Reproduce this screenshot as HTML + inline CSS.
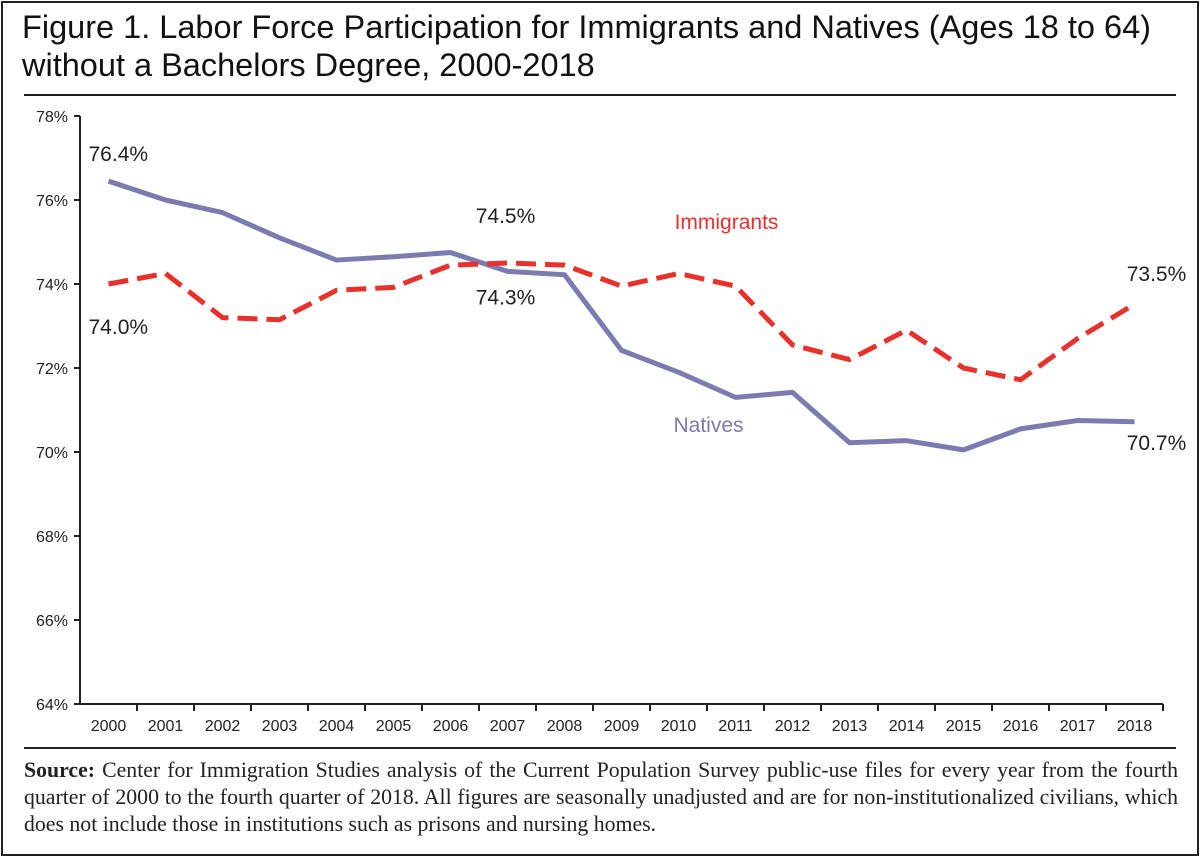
<!DOCTYPE html>
<html><head><meta charset="utf-8"><style>
body{margin:0;background:#fff;}
#wrap{position:relative;width:1200px;height:857px;overflow:hidden;font-family:"Liberation Sans",sans-serif;}
#frame{position:absolute;left:1px;top:1px;width:1194px;height:851px;border:2px solid #222;}
#title{position:absolute;left:22px;top:8px;font-size:32.5px;line-height:38px;color:#111;white-space:nowrap;}
.rule{position:absolute;left:24px;width:1152px;height:2px;background:#222;}
#source{position:absolute;left:24px;top:757px;width:1154px;font-family:"Liberation Serif",serif;font-size:21.8px;line-height:27px;color:#222;text-align:justify;}
</style></head><body>
<div id="wrap">
<div id="frame"></div>
<div id="title">Figure 1. Labor Force Participation for Immigrants and Natives (Ages 18 to 64)<br>without a Bachelors Degree, 2000-2018</div>
<div class="rule" style="top:94px"></div>
<svg id="chart" width="1200" height="857" style="position:absolute;left:0;top:0"></svg>
<div class="rule" style="top:747px"></div>
<div id="source"><b>Source:</b> Center for Immigration Studies analysis of the Current Population Survey public-use files for every year from the fourth quarter of 2000 to the fourth quarter of 2018. All figures are seasonally unadjusted and are for non-institutionalized civilians, which does not include those in institutions such as prisons and nursing homes.</div>
</div>
<script>
const years=[2000,2001,2002,2003,2004,2005,2006,2007,2008,2009,2010,2011,2012,2013,2014,2015,2016,2017,2018];
const natives=[76.45,76.0,75.7,75.1,74.57,74.65,74.75,74.3,74.22,72.42,71.9,71.3,71.42,70.22,70.27,70.05,70.55,70.75,70.72];
const immigrants=[74.0,74.25,73.2,73.15,73.85,73.92,74.45,74.5,74.45,73.95,74.25,73.95,72.55,72.2,72.9,72.0,71.72,72.7,73.52];
const yTicks=[64,66,68,70,72,74,76,78];
const ns="http://www.w3.org/2000/svg";
const svg=document.getElementById('chart');
const X0=80,XW=57,YB=704,YT=116,VMIN=64,VMAX=78;
const x=i=>X0+XW*(i+0.5);
const y=v=>YB-(v-VMIN)/(VMAX-VMIN)*(YB-YT);
function el(t,a,p){const e=document.createElementNS(ns,t);for(const k in a)e.setAttribute(k,a[k]);(p||svg).appendChild(e);return e;}
function txt(s,a){const e=el('text',a);e.textContent=s;return e;}
const axes=el('g',{stroke:'#222','stroke-width':2});


el('line',{x1:X0,y1:YT,x2:X0,y2:YB},axes);
el('line',{x1:X0,y1:YB,x2:X0+XW*years.length,y2:YB},axes);
yTicks.forEach(v=>{
  el('line',{x1:X0-6,y1:y(v),x2:X0,y2:y(v)},axes);
  const t=txt(v+'%',{x:X0-12,y:y(v)+6,'text-anchor':'end','font-size':16,fill:'#222'});
  
  
});
years.forEach((yr,i)=>{
  el('line',{x1:X0+XW*(i+1),y1:YB,x2:X0+XW*(i+1),y2:YB+7},axes);
  const t=txt(yr,{x:x(i),y:YB+27,'text-anchor':'middle','font-size':16,fill:'#222'});
  
  
});
const pts=a=>a.map((v,i)=>x(i)+','+y(v)).join(' ');
const ln=el('polyline',{points:pts(natives),fill:'none',stroke:'#7b7bb0','stroke-width':5,'stroke-linejoin':'round'});


const li=el('polyline',{points:pts(immigrants),fill:'none',stroke:'#e8312a','stroke-width':5,'stroke-dasharray':'20,9'});


const labels=[
 ['76.4%',x(0)-20,y(natives[0])-20,'#222','start','label-natives-2000'],
 ['74.0%',x(0)-20,y(immigrants[0])+50,'#222','start','label-immigrants-2000'],
 ['74.5%',x(7)-2,y(immigrants[7])-40,'#222','middle','label-immigrants-2007'],
 ['74.3%',x(7)-2,y(natives[7])+33,'#222','middle','label-natives-2007'],
 ['73.5%',x(18)+22,y(immigrants[18])-23,'#222','middle','label-immigrants-2018'],
 ['70.7%',x(18)+22,y(natives[18])+28,'#222','middle','label-natives-2018'],
 ['Immigrants',x(11)-9,229,'#e8312a','middle','legend-immigrants'],
 ['Natives',x(10)+30,432,'#7b7bb0','middle','legend-natives']];
labels.forEach(l=>{
  const t=txt(l[0],{x:l[1],y:l[2],fill:l[3],'text-anchor':l[4],'font-size':21});
  
  
});
</script>
</body></html>
